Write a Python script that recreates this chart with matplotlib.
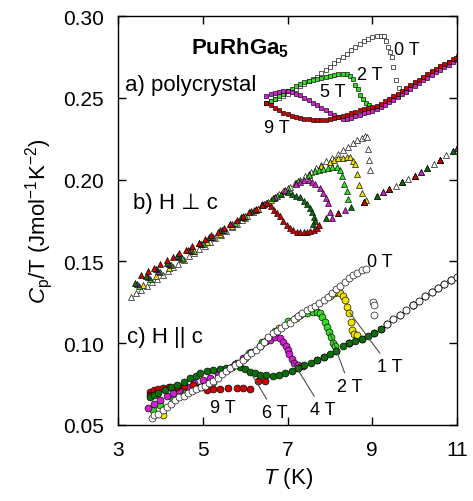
import matplotlib
matplotlib.use("Agg")
import matplotlib.pyplot as plt
import numpy as np

plt.rcParams['font.family'] = ['Liberation Sans', 'DejaVu Sans']
plt.rcParams['mathtext.fontset'] = 'custom'
plt.rcParams['mathtext.rm'] = 'Liberation Sans'
plt.rcParams['mathtext.it'] = 'Liberation Sans:italic'
plt.rcParams['mathtext.bf'] = 'Liberation Sans:bold'

# ---- a) polycrystal (squares) ----
a0_T = [6.50, 6.60, 6.70, 6.80, 6.90, 7.00, 7.10, 7.20, 7.30, 7.40, 7.50, 7.60, 7.70, 7.80,
        7.90, 8.00, 8.10, 8.20, 8.30, 8.40, 8.50, 8.60, 8.70, 8.80, 8.90, 9.00, 9.10, 9.20,
        9.28, 9.33, 9.37, 9.42, 9.46, 9.49, 9.56, 9.62]
a0_C = [0.247, 0.248, 0.249, 0.250, 0.251, 0.2525, 0.254, 0.2555, 0.257, 0.2585, 0.260, 0.2615,
        0.263, 0.265, 0.267, 0.269, 0.271, 0.273, 0.275, 0.277, 0.279, 0.281, 0.283, 0.2845,
        0.286, 0.287, 0.2875, 0.288, 0.2875, 0.285, 0.281, 0.278, 0.275, 0.269, 0.261, 0.256]

a2_T = [6.5, 6.6, 6.7, 6.8, 6.9, 7.0, 7.1, 7.2, 7.3, 7.4, 7.5, 7.6, 7.7, 7.8, 7.9, 8.0, 8.1,
        8.2, 8.3, 8.4, 8.47, 8.54, 8.60, 8.66, 8.72, 8.78, 8.85, 8.92,
        9.0, 9.2, 9.4, 9.6, 9.8, 10.0, 10.2, 10.4, 10.6, 10.8, 11.02]
a2_C = [0.247, 0.248, 0.2495, 0.251, 0.2525, 0.254, 0.2555, 0.257, 0.2585, 0.2595, 0.2605,
        0.261, 0.2615, 0.262, 0.263, 0.2635, 0.264, 0.2645, 0.2648, 0.2645, 0.2635, 0.2615,
        0.258, 0.2553, 0.252, 0.249, 0.247, 0.2455,
        0.2440, 0.2455, 0.2487, 0.2520, 0.2554, 0.2588, 0.2622, 0.2655, 0.2686, 0.2716, 0.2755]

a5_T = [6.5, 6.6, 6.7, 6.8, 6.9, 7.0, 7.1, 7.2, 7.3, 7.4, 7.5, 7.6, 7.7, 7.8, 7.9, 8.0, 8.1,
        8.2, 8.3, 8.4, 8.5, 8.6, 8.7, 8.8, 8.9, 9.0, 9.1, 9.2, 9.3, 9.4, 9.5, 9.6, 9.7, 9.8,
        9.9, 10.0, 10.1, 10.2, 10.3, 10.4, 10.5, 10.6, 10.7, 10.8, 10.9, 11.0]
a5_C = [0.251, 0.2525, 0.253, 0.2535, 0.254, 0.254, 0.2535, 0.2525, 0.2515, 0.250, 0.2485,
        0.247, 0.2455, 0.244, 0.2425, 0.241, 0.2395, 0.238, 0.2372, 0.2372, 0.2378, 0.2386,
        0.2395, 0.2405, 0.2413, 0.2420, 0.2430, 0.2442, 0.2457, 0.2472, 0.2488, 0.2504,
        0.2521, 0.2538, 0.2555, 0.2572, 0.2589, 0.2606, 0.2623, 0.2640, 0.2656, 0.2672,
        0.2688, 0.2703, 0.2718, 0.2732]

a9_T = [6.5, 6.6, 6.7, 6.8, 6.9, 7.0, 7.1, 7.2, 7.3, 7.4, 7.5, 7.6, 7.7, 7.8, 7.9, 8.0, 8.1,
        8.2, 8.3, 8.4, 8.5, 8.6, 8.7, 8.8, 8.9, 9.0, 9.1, 9.2, 9.3, 9.4, 9.5, 9.6, 9.7, 9.8,
        9.9, 10.0, 10.1, 10.2, 10.3, 10.4, 10.5, 10.6, 10.7, 10.8, 10.9, 10.97]
a9_C = [0.2468, 0.2455, 0.244, 0.2425, 0.241, 0.240, 0.239, 0.2383, 0.2377, 0.2372, 0.2368,
        0.2365, 0.2364, 0.2365, 0.2367, 0.237, 0.2375, 0.238, 0.2387, 0.2395, 0.2405, 0.2415,
        0.2425, 0.2433, 0.2438, 0.2442, 0.2448, 0.2462, 0.2478, 0.2494, 0.251, 0.2526,
        0.2543, 0.256, 0.2577, 0.2594, 0.2611, 0.2628, 0.2645, 0.2661, 0.2677, 0.2692,
        0.2707, 0.2721, 0.2735, 0.2745]

# ---- b) H perp c (triangles) ----
b_norm_T = [7.60, 7.75, 7.90, 8.05, 8.20, 8.35, 8.50, 8.65, 8.80, 8.95, 9.10, 9.25, 9.40,
            9.55, 9.70, 9.85, 10.00, 10.15, 10.30, 10.45, 10.60, 10.75, 10.90, 11.00]
b_norm_C = [0.1730, 0.1746, 0.1763, 0.1780, 0.1797, 0.1813, 0.1830, 0.1847, 0.1865, 0.1884,
            0.1902, 0.1922, 0.1942, 0.1963, 0.1984, 0.2005, 0.2025, 0.2049, 0.2073, 0.2097,
            0.2122, 0.2148, 0.2175, 0.2195]

b0_T = [3.30, 3.42, 3.55, 3.68, 3.80, 3.92, 4.05, 4.18, 4.30, 4.42, 4.55, 4.68, 4.80, 4.92,
        5.05, 5.18, 5.30, 5.42, 5.55, 5.68, 5.80, 5.92, 6.05, 6.18, 6.30, 6.42, 6.55, 6.68,
        6.80, 6.92, 7.05, 7.18, 7.30, 7.42, 7.55, 7.68, 7.80, 7.92, 8.05, 8.18, 8.30, 8.42,
        8.55, 8.65, 8.75, 8.83, 8.88, 8.90, 8.93, 8.95]
b0_C = [0.1284, 0.1305, 0.1328, 0.1352, 0.1373, 0.1395, 0.1418, 0.1441, 0.1463, 0.1484,
        0.1507, 0.1531, 0.1552, 0.1574, 0.1597, 0.1620, 0.1642, 0.1663, 0.1686, 0.1710,
        0.1731, 0.1753, 0.1776, 0.1799, 0.1821, 0.1842, 0.1865, 0.1889, 0.1910, 0.1932,
        0.1955, 0.1978, 0.2000, 0.2021, 0.2044, 0.2068, 0.2089, 0.2111, 0.2134, 0.2157,
        0.2179, 0.2200, 0.2223, 0.2241, 0.2256, 0.2265, 0.2262, 0.2185, 0.2120, 0.2060]

b1_T = [3.6, 3.9, 4.2, 4.5, 4.8, 5.1, 5.4, 5.7, 6.0, 6.3, 6.6, 6.9, 7.2, 7.5, 7.8, 8.0, 8.1,
        8.2, 8.3, 8.4, 8.47, 8.55, 8.59, 8.64, 8.68, 8.75, 8.85]
b1_C = [0.1357, 0.1411, 0.1460, 0.1514, 0.1562, 0.1616, 0.1670, 0.1718, 0.1767, 0.1821,
        0.1874, 0.1928, 0.1982, 0.2035, 0.2085, 0.2105, 0.2120, 0.2130, 0.2135, 0.2138,
        0.2136, 0.2115, 0.2093, 0.2032, 0.1970, 0.1920, 0.1875]

b2_T = [3.5, 3.75, 4.0, 4.25, 4.5, 4.75, 5.0, 5.25, 5.5, 5.75, 6.0, 6.25, 6.5, 6.75, 7.0,
        7.25, 7.5, 7.65, 7.75, 7.84, 7.95, 8.05, 8.17, 8.24, 8.28, 8.34, 8.40, 8.42]
b2_C = [0.1349, 0.1394, 0.1437, 0.1479, 0.1521, 0.1563, 0.1606, 0.1648, 0.1690, 0.1732,
        0.1775, 0.1817, 0.1857, 0.1901, 0.1946, 0.1991, 0.2030, 0.2050, 0.2060, 0.2065,
        0.2072, 0.2077, 0.2080, 0.2058, 0.2020, 0.1975, 0.1928, 0.1880]

b4_T = [3.45, 3.7, 3.95, 4.2, 4.45, 4.7, 4.95, 5.2, 5.45, 5.7, 5.95, 6.2, 6.45, 6.7, 6.95,
        7.2, 7.3, 7.4, 7.5, 7.58, 7.66, 7.76, 7.84, 7.90, 7.95, 8.00, 8.05]
b4_C = [0.1360, 0.1402, 0.1443, 0.1485, 0.1526, 0.1567, 0.1609, 0.1650, 0.1691, 0.1731,
        0.1772, 0.1813, 0.1853, 0.1892, 0.1937, 0.1975, 0.1988, 0.1995, 0.1995, 0.1985,
        0.1972, 0.1950, 0.1920, 0.1885, 0.1855, 0.1805, 0.1768]

b6_T = [3.4, 3.65, 3.9, 4.15, 4.4, 4.65, 4.9, 5.15, 5.4, 5.65, 5.9, 6.15, 6.4, 6.65, 6.85,
        7.0, 7.1, 7.2, 7.29, 7.38, 7.46, 7.52, 7.58, 7.62, 7.66]
b6_C = [0.1371, 0.1411, 0.1451, 0.1491, 0.1531, 0.1570, 0.1610, 0.1650, 0.1690, 0.1729,
        0.1769, 0.1809, 0.1849, 0.1888, 0.1915, 0.1925, 0.1915, 0.1900, 0.1891, 0.1868,
        0.1848, 0.1825, 0.1800, 0.1772, 0.1744]

b9_T = [3.55, 3.7, 3.85, 4.0, 4.15, 4.3, 4.45, 4.6, 4.75, 4.9, 5.05, 5.2, 5.35, 5.5, 5.65,
        5.8, 5.95, 6.1, 6.25, 6.4, 6.52, 6.62, 6.68, 6.75, 6.82, 6.90, 6.98, 7.06, 7.14, 7.22,
        7.30, 7.38, 7.46, 7.54, 7.62, 7.69, 7.75]
b9_C = [0.1418, 0.1440, 0.1462, 0.1484, 0.1506, 0.1528, 0.1550, 0.1572, 0.1593, 0.1615,
        0.1637, 0.1659, 0.1680, 0.1704, 0.1728, 0.1751, 0.1775, 0.1799, 0.1822, 0.1847,
        0.1860, 0.1840, 0.1817, 0.1795, 0.1775, 0.1745, 0.1720, 0.1705, 0.1690, 0.1682,
        0.1678, 0.1678, 0.1680, 0.1685, 0.1693, 0.1707, 0.1720]

# ---- c) H || c (circles) ----
c_norm_T = [6.65, 6.80, 6.95, 7.10, 7.25, 7.40, 7.55, 7.70, 7.85, 8.00, 8.15, 8.30, 8.45,
            8.60, 8.75, 8.90, 9.05, 9.20, 9.35, 9.50, 9.65, 9.80, 9.95, 10.10, 10.25, 10.40,
            10.55, 10.70, 10.85, 11.00]
c_norm_C = [0.0800, 0.0806, 0.0818, 0.0832, 0.0850, 0.0866, 0.0882, 0.0897, 0.0914, 0.0935,
            0.0955, 0.0980, 0.1000, 0.1015, 0.1028, 0.1045, 0.1065, 0.1088, 0.1117, 0.1148,
            0.1175, 0.1200, 0.1233, 0.1260, 0.1287, 0.1313, 0.1340, 0.1362, 0.1385, 0.1405]

c0_T = [3.80, 3.85, 3.95, 4.05, 4.15, 4.25, 4.35, 4.45, 4.55, 4.65, 4.75, 4.85, 4.95, 5.05,
        5.15, 5.25, 5.35, 5.45, 5.55, 5.65, 5.75, 5.85, 5.95, 6.05, 6.15, 6.25, 6.35, 6.45,
        6.55, 6.65, 6.75, 6.85, 6.95, 7.05, 7.15, 7.25, 7.35, 7.45, 7.55, 7.65, 7.75, 7.85,
        7.95, 8.05, 8.15, 8.25, 8.35, 8.45, 8.55, 8.65, 8.75, 8.85, 9.01, 9.04, 9.04]
c0_C = [0.054, 0.056, 0.057, 0.059, 0.061, 0.063, 0.065, 0.067, 0.068, 0.0695, 0.071, 0.072,
        0.073, 0.074, 0.0755, 0.077, 0.079, 0.081, 0.083, 0.085, 0.0865, 0.088, 0.090, 0.092,
        0.094, 0.096, 0.0985, 0.101, 0.1035, 0.106, 0.1075, 0.1095, 0.111, 0.1125, 0.1145,
        0.1165, 0.1185, 0.120, 0.1215, 0.123, 0.1245, 0.1265, 0.1285, 0.1305, 0.133, 0.135,
        0.1375, 0.140, 0.1415, 0.143, 0.1445, 0.1455, 0.1254, 0.1235, 0.1174]

c1_T = [4.06, 4.5, 5.0, 5.24, 5.6, 6.0, 6.4, 6.8, 7.2, 7.6, 8.0, 8.1, 8.17, 8.24, 8.30, 8.35,
        8.41, 8.45, 8.49, 8.52, 8.58, 8.64]
c1_C = [0.0561, 0.0685, 0.0740, 0.0764, 0.0840, 0.0910, 0.1000, 0.1090, 0.1155, 0.1215,
        0.1290, 0.1305, 0.1310, 0.1309, 0.1290, 0.1266, 0.1220, 0.1186, 0.1130, 0.1082,
        0.1055, 0.1050]

c2_T = [3.83, 4.0, 4.3, 4.6, 4.9, 5.2, 5.5, 5.8, 6.1, 6.4, 6.7, 7.0, 7.3, 7.45, 7.6, 7.7,
        7.76, 7.82, 7.88, 7.93, 7.98, 8.03, 8.07, 8.12]
c2_C = [0.0592, 0.0620, 0.0655, 0.0700, 0.0735, 0.0775, 0.0830, 0.0880, 0.0940, 0.1005,
        0.1075, 0.1135, 0.1175, 0.1185, 0.1192, 0.1190, 0.1186, 0.1160, 0.1131, 0.1100,
        0.1070, 0.1035, 0.1000, 0.0980]

c4_T = [3.71, 3.85, 3.99, 4.15, 4.3, 4.45, 4.63, 4.8, 5.0, 5.17, 5.35, 5.55, 5.75, 5.95,
        6.15, 6.35, 6.5, 6.58, 6.7, 6.82, 6.9, 6.96, 7.0, 7.04, 7.1, 7.16, 7.25, 7.36]
c4_C = [0.0604, 0.0630, 0.0653, 0.0675, 0.0695, 0.0715, 0.0733, 0.0755, 0.0776, 0.0785,
        0.0810, 0.0845, 0.0875, 0.0910, 0.0945, 0.0985, 0.1015, 0.1020, 0.1035, 0.1033,
        0.1010, 0.0985, 0.0960, 0.0935, 0.0905, 0.0880, 0.0868, 0.0858]

c6_T = [3.75, 3.85, 3.95, 4.1, 4.25, 4.39, 4.55, 4.7, 4.85, 4.93, 5.1, 5.24, 5.4, 5.55, 5.7,
        5.88, 6.0, 6.11, 6.23, 6.35, 6.5]
c6_C = [0.0672, 0.0682, 0.0695, 0.0715, 0.0730, 0.0745, 0.0765, 0.0785, 0.0800, 0.0819,
        0.0828, 0.0837, 0.0843, 0.0848, 0.0852, 0.0855, 0.0840, 0.0825, 0.0815, 0.0808,
        0.0803]

c9_T = [3.75, 3.75, 3.85, 3.95, 4.06, 4.2, 4.39, 4.55, 4.77, 4.95, 5.1, 5.25, 5.4, 5.6, 5.81,
        5.95, 6.11, 6.3, 6.47]
c9_C = [0.0702, 0.0685, 0.0712, 0.0720, 0.0727, 0.0730, 0.0733, 0.0740, 0.0745, 0.0735,
        0.0714, 0.0717, 0.0720, 0.0724, 0.0727, 0.0725, 0.0722, 0.0766, 0.0768]

WHITE = 'white'
YELLOW = '#f2e200'
GREEN = '#33dd22'
MAGENTA = '#d020d0'
DKGREEN = '#0b6e0b'
RED = '#d00000'


def pts(ax, T, C, color, marker, ms):
    ax.plot(T, C, ls='none', marker=marker, ms=ms, mfc=color, mec='black', mew=0.45)


def tail(T, C, tmin, step=1, start=0):
    T = np.array(T)
    C = np.array(C)
    m = T >= tmin
    return T[m][start::step], C[m][start::step]


fig = plt.figure(figsize=(4.73, 5.02), dpi=100)
ax = fig.add_axes([0.2495, 0.1514, 0.7167, 0.8147])

# panel a
sq = 3.4
pts(ax, a0_T, a0_C, WHITE, 's', sq)
pts(ax, a2_T, a2_C, GREEN, 's', sq)
pts(ax, a5_T, a5_C, MAGENTA, 's', sq)
pts(ax, a9_T, a9_C, RED, 's', sq)

# panel b
tr = 4.6
pts(ax, b0_T, b0_C, WHITE, '^', tr)
pts(ax, *tail(b_norm_T, b_norm_C, 9.0), WHITE, '^', tr)
pts(ax, b1_T, b1_C, YELLOW, '^', tr)
pts(ax, b2_T, b2_C, GREEN, '^', tr)
pts(ax, b4_T, b4_C, MAGENTA, '^', tr)
pts(ax, *tail(b_norm_T, b_norm_C, 8.2, 3, 1), MAGENTA, '^', tr)
pts(ax, b6_T, b6_C, DKGREEN, '^', tr)
pts(ax, *tail(b_norm_T, b_norm_C, 7.6, 2), DKGREEN, '^', tr)
pts(ax, b9_T, b9_C, RED, '^', tr)
pts(ax, *tail(b_norm_T, b_norm_C, 7.8, 4, 2), RED, '^', tr)

# panel c
ci = 5.0
pts(ax, c1_T, c1_C, YELLOW, 'o', ci)
pts(ax, *tail(c_norm_T, c_norm_C, 9.9, 3), YELLOW, 'o', ci)
pts(ax, c2_T, c2_C, GREEN, 'o', ci)
pts(ax, *tail(c_norm_T, c_norm_C, 8.15, 4), GREEN, 'o', ci)
pts(ax, c4_T, c4_C, MAGENTA, 'o', ci)
pts(ax, *tail(c_norm_T, c_norm_C, 7.4, 5, 2), MAGENTA, 'o', ci)
pts(ax, c9_T, c9_C, RED, 'o', ci)
pts(ax, *tail(c_norm_T, c_norm_C, 6.8, 4, 3), RED, 'o', ci)
pts(ax, c6_T, c6_C, DKGREEN, 'o', ci)
pts(ax, *tail(c_norm_T, c_norm_C, 6.6), DKGREEN, 'o', ci)
pts(ax, c0_T, c0_C, WHITE, 'o', ci)
pts(ax, *tail(c_norm_T, c_norm_C, 9.3), WHITE, 'o', ci)

# text labels
fs_lab = 16
fs_f = 13
ax.text(5.88, 0.281, r'$\mathbf{PuRhGa_5}$', fontsize=16, ha='center', va='center')
ax.text(3.17, 0.2583, 'a) polycrystal', fontsize=fs_lab, ha='left', va='center')
ax.text(3.35, 0.186, 'b) H \u22a5 c', fontsize=fs_lab, ha='left', va='center')
ax.text(3.21, 0.104, 'c) H || c', fontsize=fs_lab, ha='left', va='center')

ax.text(9.82, 0.2798, '0 T', fontsize=fs_f, ha='center', va='center')
ax.text(8.94, 0.2645, '2 T', fontsize=fs_f, ha='center', va='center')
ax.text(8.07, 0.254, '5 T', fontsize=fs_f, ha='center', va='center')
ax.text(6.75, 0.232, '9 T', fontsize=fs_f, ha='center', va='center')

ax.text(9.18, 0.150, '0 T', fontsize=fs_f, ha='center', va='center')
ax.text(5.48, 0.061, '9 T', fontsize=fs_f, ha='center', va='center')
lead = dict(arrowstyle='-', color='0.3', lw=0.8, shrinkA=2, shrinkB=0)
ax.annotate('1 T', xy=(8.47, 0.1186), xytext=(9.42, 0.0855), fontsize=fs_f,
            ha='center', va='center', arrowprops=lead)
ax.annotate('2 T', xy=(8.0, 0.1064), xytext=(8.47, 0.0733), fontsize=fs_f,
            ha='center', va='center', arrowprops=lead)
ax.annotate('4 T', xy=(7.13, 0.0886), xytext=(7.83, 0.0592), fontsize=fs_f,
            ha='center', va='center', arrowprops=lead)
ax.annotate('6 T', xy=(6.18, 0.080), xytext=(6.70, 0.0574), fontsize=fs_f,
            ha='center', va='center', arrowprops=lead)

ax.set_xlim(3, 11)
ax.set_ylim(0.05, 0.30)
ax.set_xticks([3, 5, 7, 9, 11])
ax.set_yticks([0.05, 0.10, 0.15, 0.20, 0.25, 0.30])
ax.set_yticklabels(['0.05', '0.10', '0.15', '0.20', '0.25', '0.30'])
ax.tick_params(direction='in', top=True, right=True, length=6, width=1, labelsize=15)
ax.tick_params(axis='x', pad=11)
ax.tick_params(axis='y', pad=10)
for s in ax.spines.values():
    s.set_linewidth(1)

ax.set_xlabel(r'$T$ (K)', fontsize=16, labelpad=4)
ax.set_ylabel(r'$C_\mathrm{p}$/T (Jmol$^{\mathrm{-1}}$K$^{\mathrm{-2}}$)', fontsize=16, labelpad=6)

fig.savefig('out.png', dpi=100)
